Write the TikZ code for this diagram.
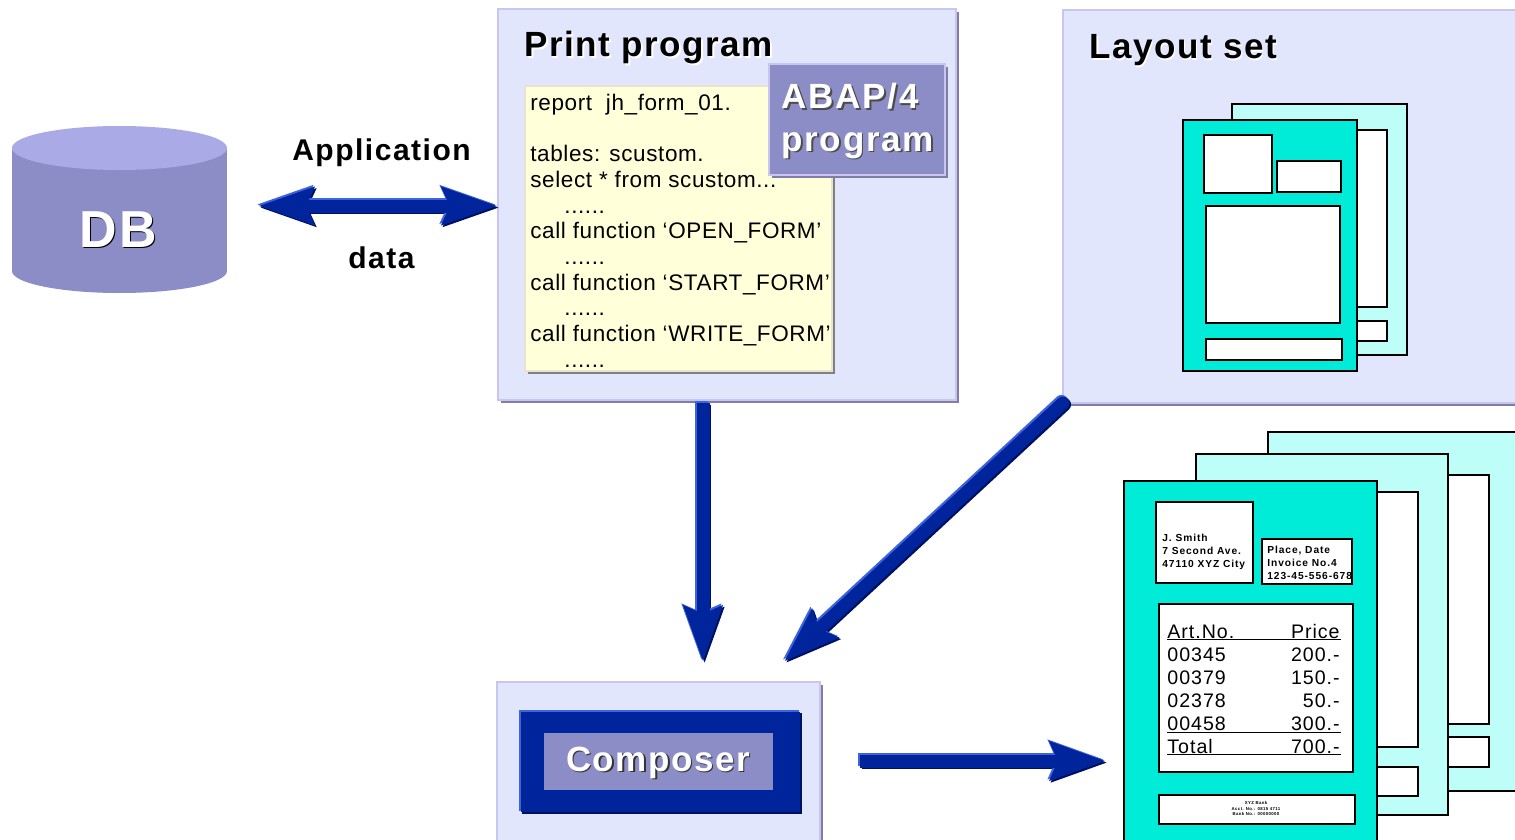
\documentclass[tikz,border=0pt]{standalone}
\usepackage{fontspec}
\setmainfont{Liberation Sans}
\newfontfamily\widefont[LetterSpace=4.4]{Liberation Sans}
\newfontfamily\slipfont[LetterSpace=9]{Liberation Sans}
\newfontfamily\abapfont[LetterSpace=5]{Liberation Sans}
\newfontfamily\codefont[LetterSpace=2.7]{Liberation Sans}
\usetikzlibrary{arrows.meta, fit, shadows}

\definecolor{panelfill}{HTML}{E1E6FD}
\definecolor{panelline}{HTML}{C6C6EE}
\definecolor{panelshade}{HTML}{7E7EA6}
\definecolor{codefill}{HTML}{FFFFD9}
\definecolor{codeline}{HTML}{E4E4D0}
\definecolor{slate}{HTML}{8C8CC6}
\definecolor{slatelite}{HTML}{AAAAE6}
\definecolor{navy}{HTML}{00249C}
\definecolor{navylite}{HTML}{3E63E0}
\definecolor{navydark}{HTML}{00105F}
\definecolor{sheetfill}{HTML}{00EBD8}
\definecolor{sheetlite}{HTML}{BDFFF8}

\newcommand{\shtext}[2]{\makebox[0pt][l]{\kern0.8pt\raisebox{-0.8pt}{\textcolor{#1}{#2}}}#2}
\newcommand{\flowarrow}[2]{%
    \foreach \tone/\dx in {navydark/0.8, navylite/-0.8, navy/0} {
        \draw[flow, #1, draw=\tone, transform canvas={shift={(\dx pt,-\dx pt)}}] #2;
    }}

\begin{document}
\begin{tikzpicture}[x=0.5pt, y=-0.5pt,
        panel/.style={rectangle, inner sep=0pt, outer sep=0pt, fill=panelfill, draw=panelline, line width=1.3pt,
            drop shadow={shadow xshift=1.4pt, shadow yshift=-1.4pt, opacity=1, fill=panelshade}},
        codebox/.style={panel, fill=codefill, draw=codeline, drop shadow={shadow xshift=1.4pt, shadow yshift=-1.4pt, opacity=1, fill=gray}},
        sheet/.style={rectangle, inner sep=0pt, outer sep=0pt, fill=sheetfill, draw=black, line width=1pt},
        backsheet/.style={sheet, fill=sheetlite},
        slot/.style={sheet, fill=white},
        flow/.style={line width=6.5pt, -{Stealth[length=27.5pt, width=18.5pt, inset=3.5pt]}},
        flowboth/.style={flow, {Stealth[length=27.5pt, width=18pt, inset=3.5pt]}-{Stealth[length=27.5pt, width=18pt, inset=3.5pt]}},
        title/.style={anchor=base west, inner sep=0pt, font=\widefont\bfseries\fontsize{17.5}{20}\selectfont},
        linklabel/.style={anchor=base, inner sep=0pt, font=\abapfont\bfseries\fontsize{15}{18}\selectfont},
        cell/.style={anchor=base west, inner sep=0pt, font=\abapfont\fontsize{9.8}{12}\selectfont},
        slip/.style={anchor=west, align=left, inner sep=0pt, font=\slipfont\bfseries\fontsize{5.1}{6.5}\selectfont}]
        \useasboundingbox (0,0) rectangle (1515,840);
        \clip (0,0) rectangle (1515,840);

        \fill[slate] (119.5,271) ellipse (107.5 and 22);
        \fill[slate] (12,148) rectangle (227,271);
        \fill[slatelite] (119.5,148) ellipse (107.5 and 22);
        \node[minimum width=107.5pt, minimum height=83pt, inner sep=0pt, outer sep=0pt] (db) at (119.5,210) {};
        \node[anchor=base, inner sep=0pt, text=white, font=\abapfont\bfseries\fontsize{26}{30}\selectfont] (dbtext) at (118,247) {\shtext{black}{DB}};

        \node[panel, fit={(498,9) (956,400)}] (print) {};
        \node[panel, fit={(1063,10) (1540,403)}] (layout) {};
        \node[panel, fit={(497,682) (820,860)}] (composer) {};

        \node[title] (printtitle) at (524,57) {\shtext{white}{Print program}};
        \node[title] (layouttitle) at (1089,59) {\shtext{white}{Layout set}};

        \node[codebox, fit={(525,86) (832,371)}] (code) {};
        \node[anchor=north west, inner sep=0pt, align=left, font=\codefont\fontsize{11.25}{12.85}\selectfont] (listing) at (530,93.5) {report \ jh\_form\_01.\\
            \mbox{}\\
            tables: scustom.\\
            select * from scustom...\\
            \hspace*{17pt}......\\
            call function ‘OPEN\_FORM’\\
            \hspace*{17pt}......\\
            call function ‘START\_FORM’\\
            \hspace*{17pt}......\\
            call function ‘WRITE\_FORM’\\
            \hspace*{17pt}......};

        \node[panel, fill=slate, fit={(769,64) (945,175)}] (abap) {};
        \node[anchor=base west, inner sep=0pt, text=white, font=\abapfont\bfseries\fontsize{17.5}{20}\selectfont] (abapa) at (781,109) {\shtext{black!70}{ABAP/4}};
        \node[anchor=base west, inner sep=0pt, text=white, font=\abapfont\bfseries\fontsize{17.5}{20}\selectfont] (abapb) at (781,151) {\shtext{black!70}{program}};

        \node[rectangle, inner sep=0pt, fill=navydark, fit={(522,713) (802,814)}] (engineshade) {};
        \node[rectangle, inner sep=0pt, fill=navylite, fit={(519,710) (799,811)}] (enginelite) {};
        \node[rectangle, inner sep=0pt, fill=navy, fit={(521,712) (800,812)}] (engine) {};
        \node[rectangle, inner sep=0pt, fill=slate, fit={(544,733) (773,790)}, text=white] (plate) {};
        \node[anchor=base, inner sep=0pt, text=white, font=\widefont\bfseries\fontsize{17.5}{20}\selectfont] (platetext) at (658,771) {\shtext{black!80}{Composer}};

        \foreach \name/\xa/\ya/\xb/\yb in {la/1232/104/1407/355} {
            \node[backsheet, fit={(\xa,\ya) (\xb,\yb)}] (\name) {};
        }
        \foreach \name/\xa/\ya/\xb/\yb in {lb/1300/130/1387/307, lc/1300/321/1387/341} {
            \node[slot, fit={(\xa,\ya) (\xb,\yb)}] (\name) {};
        }
        \node[sheet, fit={(1183,120) (1357,371)}] (ld) {};
        \foreach \name/\xa/\ya/\xb/\yb in {le/1204/135/1272/193, lf/1277/161/1341/192, lg/1206/206/1340/323, lh/1206/339/1342/360} {
            \node[slot, fit={(\xa,\ya) (\xb,\yb)}] (\name) {};
        }

        \node[backsheet, fit={(1268,432) (1540,791)}] (pa) {};
        \foreach \name/\xa/\ya/\xb/\yb in {pb/1400/475/1489/724, pc/1400/737/1489/767} {
            \node[slot, fit={(\xa,\ya) (\xb,\yb)}] (\name) {};
        }
        \node[backsheet, fit={(1196,454) (1448,815)}] (pd) {};
        \foreach \name/\xa/\ya/\xb/\yb in {pe/1330/492/1418/747, pf/1330/767/1418/796} {
            \node[slot, fit={(\xa,\ya) (\xb,\yb)}] (\name) {};
        }
        \node[sheet, fit={(1124,481) (1377,850)}] (pg) {};
        \foreach \name/\xa/\ya/\xb/\yb in {addr/1156/502/1253/583, info/1262/539/1352/584, items/1159/604/1353/772, bank/1159/795/1355/824} {
            \node[slot, fit={(\xa,\ya) (\xb,\yb)}] (\name) {};
        }

        \node[slip] (addrtext) at (1162,552) {J. Smith\\7 Second Ave.\\47110 XYZ City};
        \node[slip] (infotext) at (1267,563) {Place, Date\\Invoice No.4\\123-45-556-678};
        \node[anchor=center, align=center, inner sep=0pt, font=\slipfont\bfseries\fontsize{2.15}{2.65}\selectfont] (banktext) at (1256,808.5) {XYZ Bank\\Acct. No.: 0815 4711\\Bank No.: 00000000};

        \foreach \y/\art/\price in {638/Art.No./Price, 661/00345/200.-, 684/00379/150.-, 707/02378/50.-, 730/00458/300.-, 753/Total/700.-} {
            \node[cell] (art\y) at (1167,\y) {\art};
            \node[cell, anchor=base east] (price\y) at (1340,\y) {\price};
        }
        \foreach \y in {639.5, 732.5, 754.5} {
            \draw[line width=0.5pt] (1167,\y) -- (1341,\y);
        }

        \node[linklabel] (apptext) at (381.5,161) {Application};
        \node[linklabel] (datatext) at (381.5,268) {data};

        \coordinate (armrow) at (380,206);
        \coordinate (outrow) at (900,761);
        \coordinate (downcol) at (703,500);
        \coordinate (slant) at (762,682);

        \flowarrow{flowboth, shorten <=15.5pt}{(db.east |- armrow) -- (print.west |- armrow)}
        \flowarrow{shorten <=1.5pt, shorten >=10pt}{(print.south -| downcol) -- (composer.north -| downcol)}
        \flowarrow{line cap=round, shorten >=15pt}{(layout.south west) -- (slant)}
        \flowarrow{shorten <=20pt, shorten >=9pt}{(composer.east |- outrow) -- (pg.west |- outrow)}
    \end{tikzpicture}
\end{document}
